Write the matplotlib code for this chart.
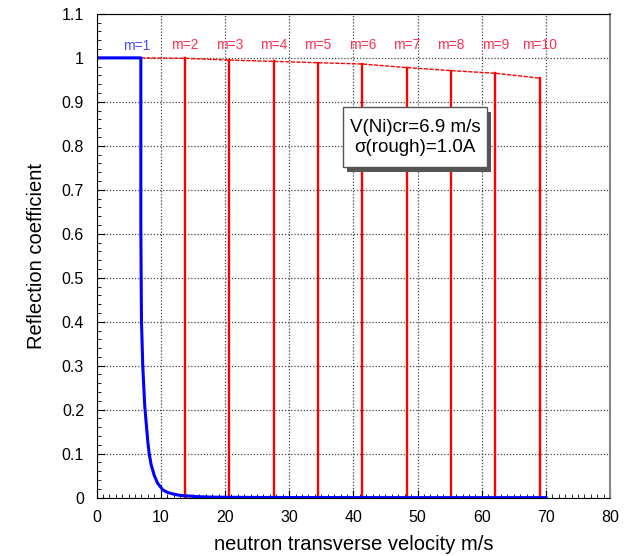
import matplotlib.pyplot as plt

plt.rcParams['font.family'] = ['Liberation Sans', 'DejaVu Sans']

# blue curve: m=1 (Ni) reflectivity
v_ni = [0, 6.9, 6.9, 6.95, 7.0, 7.2, 7.5, 7.7, 8.0, 8.2, 8.5, 9.0, 9.5, 10.3, 11, 12, 13, 14, 16, 18, 20, 25, 30, 40, 50, 60, 70]
r_ni = [1.0, 1.0, 0.62, 0.5, 0.4, 0.3, 0.21, 0.175, 0.125, 0.1, 0.075, 0.05, 0.033, 0.018, 0.012, 0.008, 0.005, 0.004, 0.002, 0.0012, 0.0008, 0.0004, 0.0002, 0.0001, 0.0, 0.0, 0.0]

# supermirror cutoffs m=2..10 and reflectivity at cutoff
m_vals = [2, 3, 4, 5, 6, 7, 8, 9, 10]
v_cut = [13.8, 20.7, 27.6, 34.5, 41.4, 48.3, 55.2, 62.1, 69.0]
r_cut = [0.999, 0.995, 0.992, 0.989, 0.986, 0.978, 0.971, 0.965, 0.954]

fig = plt.figure(figsize=(6.31, 5.56), dpi=100)
ax = fig.add_axes([0.153, 0.105, 0.814, 0.87])

# red top curve (dashed)
ax.plot([6.9] + v_cut, [1.0] + r_cut, color='red', lw=1.0, ls=(0, (3, 1)))
for v, r in zip(v_cut, r_cut):
    ax.plot([v, v], [0, r], color='red', lw=1.7)
ax.plot(v_ni, r_ni, color='blue', lw=2.2)

ax.text(6.2, 1.027, 'm=1', color='#4a4aff', fontsize=10, ha='center', va='center')
for m, v in zip(m_vals, v_cut):
    ax.text(v, 1.03, 'm=%d' % m, color='#ff3050', fontsize=10, ha='center', va='center')

ax.set_xlim(0, 80)
ax.set_ylim(0, 1.1)
ax.set_xticks(range(0, 81, 10))
ax.set_yticks([i / 10 for i in range(12)])
ax.set_yticklabels(['0', '0.1', '0.2', '0.3', '0.4', '0.5', '0.6', '0.7', '0.8', '0.9', '1', '1.1'])
ax.set_xticks(range(0, 81, 1), minor=True)
ax.set_yticks([i * 0.02 for i in range(56)], minor=True)
ax.tick_params(direction='in', labelsize=11.5, length=6, top=False, right=False, pad=9)
ax.tick_params(which='minor', direction='in', length=3)
ax.grid(True, ls=(0, (1, 1.5)), color='#444444', lw=0.9)
ax.set_axisbelow(True)
ax.set_xlabel('neutron transverse velocity m/s', fontsize=14.5, labelpad=7)
ax.set_ylabel('Reflection coefficient', fontsize=14.5, labelpad=11)
ax.spines['right'].set_color('#888888')
ax.spines['right'].set_linewidth(1.5)

# text box with drop shadow
bx0, bx1, by0, by1 = 38.4, 60.8, 0.751, 0.888
ax.add_patch(plt.Rectangle((bx0 + 0.65, by0 - 0.011), bx1 - bx0, by1 - by0,
                           facecolor='#555555', edgecolor='none', zorder=4))
ax.add_patch(plt.Rectangle((bx0, by0), bx1 - bx0, by1 - by0,
                           facecolor='white', edgecolor='#555555', lw=1.0, zorder=5))
ax.text((bx0 + bx1) / 2, (by0 + by1) / 2, 'V(Ni)cr=6.9 m/s\nσ(rough)=1.0A', fontsize=13.5,
        ha='center', va='center', linespacing=1.2, zorder=6)

fig.savefig('out.png')
